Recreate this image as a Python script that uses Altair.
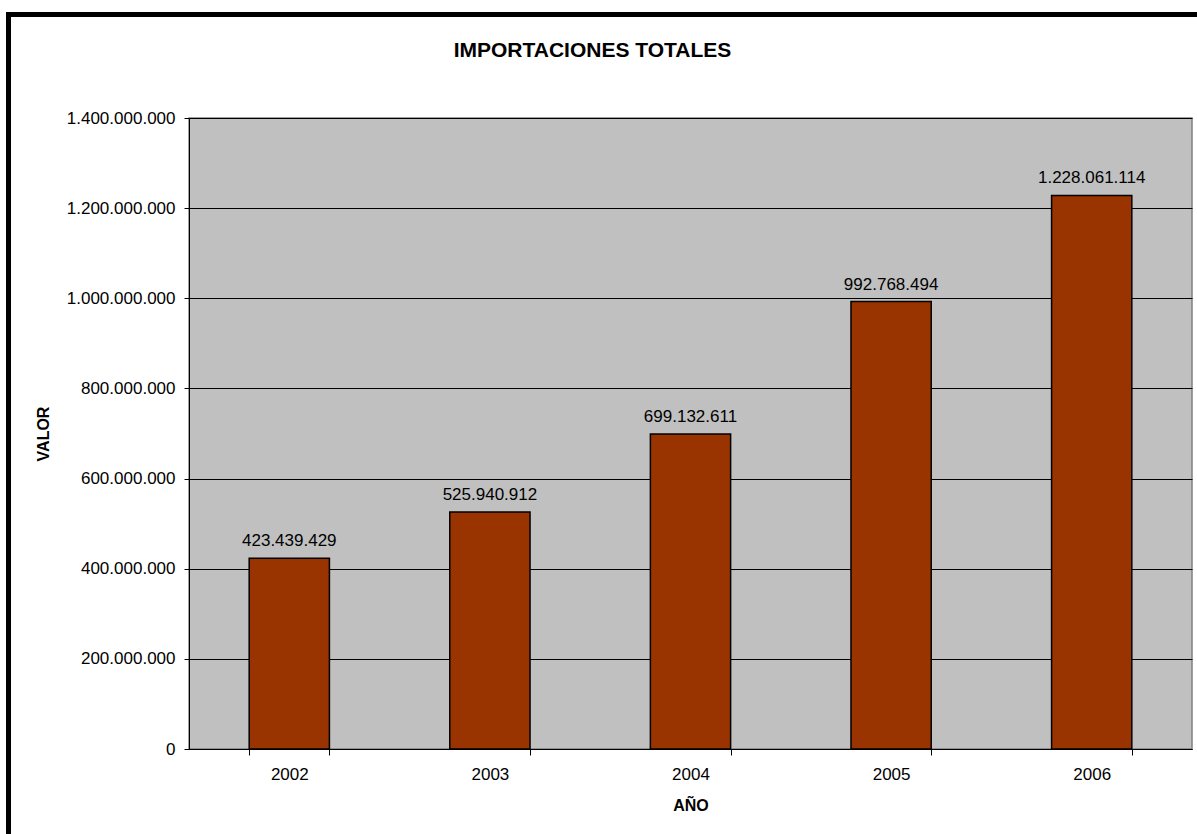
import altair as alt
import pandas as pd

years = ["2002", "2003", "2004", "2005", "2006"]
values = [423439429, 525940912, 699132611, 992768494, 1228061114]
y_ticks = [0, 200000000, 400000000, 600000000, 800000000, 1000000000, 1200000000, 1400000000]

df = pd.DataFrame({"year": years, "value": values})

FONT = "Liberation Sans"
W, H = 1003, 631

base = alt.Chart(df)

bars = base.mark_bar(color="#993300", stroke="black", strokeWidth=1.5).encode(
    x=alt.X("year:N", sort=years,
            scale=alt.Scale(paddingInner=0.6, paddingOuter=0.3),
            axis=alt.Axis(title="AÑO", labelAngle=0, tickBand="extent",
                          tickSize=6, tickColor="black", domainColor="black",
                          labelFont=FONT, labelFontSize=17, labelColor="black",
                          labelPadding=11, grid=False,
                          titleFont=FONT, titleFontSize=16, titleFontWeight="bold",
                          titleColor="black", titleY=56, titleBaseline="middle")),
    y=alt.Y("value:Q", scale=alt.Scale(domain=[0, 1400000000], nice=False),
            axis=alt.Axis(title="VALOR", values=y_ticks,
                          labelExpr="replace(format(datum.value, ','), /,/g, '.')",
                          tickSize=5, tickColor="black", domainColor="black",
                          gridColor="black", gridWidth=1, grid=True,
                          labelFont=FONT, labelFontSize=17, labelColor="black",
                          labelPadding=9,
                          titleFont=FONT, titleFontSize=16, titleFontWeight="bold",
                          titleColor="black", titleX=-146, titleY=H / 2,
                          titleAlign="center", titleBaseline="middle", titleAngle=-90)),
)

labels = base.transform_calculate(
    lab="replace(format(datum.value, ','), /,/g, '.')"
).mark_text(font=FONT, fontSize=17, color="black", baseline="alphabetic", dy=-12).encode(
    x=alt.X("year:N", sort=years),
    y="value:Q",
    text="lab:N",
)

border = alt.Chart(pd.DataFrame({"a": [0]})).mark_rect(
    fill=None, stroke="black", strokeWidth=5
).encode(
    x=alt.value(-180.5), x2=alt.value(1250),
    y=alt.value(-103.5), y2=alt.value(800),
)

chart = alt.layer(bars, labels, border).properties(
    width=W, height=H,
    title=alt.TitleParams("IMPORTACIONES TOTALES", font=FONT, fontSize=21,
                          fontWeight="bold", color="black", anchor="middle",
                          frame="group", dx=-98, offset=0, dy=49),
    autosize=alt.AutoSizeParams(type="none"),
    padding={"left": 189, "top": 118, "right": 5, "bottom": 85},
    background="white",
).configure_view(
    fill="#C0C0C0", stroke="#808080", strokeWidth=1.5
)

chart.save("out.html", embed_options={"renderer": "svg", "actions": False})
